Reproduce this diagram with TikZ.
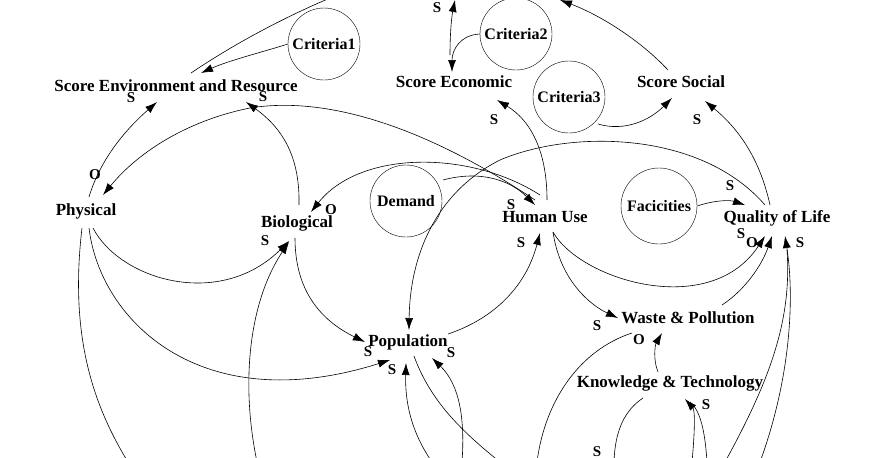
\documentclass[tikz,border=0pt]{standalone}
\usepackage{fontspec}
\setmainfont{Liberation Serif}
\usetikzlibrary{arrows.meta}
\begin{document}
\begin{tikzpicture}[x=1pt,y=-1pt,
  lbl/.style={font=\bfseries\fontsize{17}{17}\selectfont, inner sep=1pt},
  pol/.style={font=\bfseries\fontsize{15}{15}\selectfont, inner sep=0pt},
  crit/.style={draw, circle, minimum size=72pt, inner sep=0pt, font=\bfseries\fontsize{16}{16}\selectfont},
  ln/.style={line width=0.6pt},
  ar/.style={ln, -{Latex[length=12pt,width=8pt]}}]
\useasboundingbox (0,0) rectangle (871,458);
% nodes
\node[lbl] (se) at (176,86) {Score Environment and Resource};
\node[crit] (c1) at (324,44) {Criteria1};
\node[lbl] (sec) at (454,82) {Score Economic};
\node[crit] (c2) at (516,34) {Criteria2};
\node[crit] (c3) at (569,97) {Criteria3};
\node[lbl] (ss) at (681,82) {Score Social};
\node[lbl] (ph) at (86,211) {Physical};
\node[lbl] (bio) at (297,223) {Biological};
\node[crit] (dem) at (406,201) {Demand};
\node[lbl] (hu) at (545,217) {Human Use};
\node[crit,minimum size=76pt] (fac) at (659,206) {Facicities};
\node[lbl] (ql) at (777,218) {Quality of Life};
\node[lbl] (pop) at (408,342) {Population};
\node[lbl] (wp) at (688,318) {Waste \& Pollution};
\node[lbl] (kt) at (670,383) {Knowledge \& Technology};
% free ends
\coordinate (t1) at (330,-2);
\coordinate (b1) at (128,462);
\coordinate (b2) at (257,462);
\coordinate (b3) at (432,462);
\coordinate (b4) at (500,462);
\coordinate (b5) at (462,462);
\coordinate (b6) at (537,462);
\coordinate (b7) at (614,462);
\coordinate (b8) at (692,462);
\coordinate (b9) at (707,462);
\coordinate (b10) at (725,462);
\coordinate (b11) at (760,462);
% connectors
\draw[ln] (191,73) .. controls (240,40) and (290,15) .. (t1);
\draw[ar] (c1.west) .. controls (270,50) and (230,60) .. (201,73);
\draw[ar] (89,197) .. controls (100,160) and (125,130) .. (157,102);
\draw[ar] (535,200) .. controls (430,130) and (330,95) .. (250,108) .. controls (190,120) and (140,150) .. (103,195);
\draw[ar] (299,205) .. controls (300,160) and (285,130) .. (246,102);
\draw[ar] (540,195) .. controls (470,150) and (360,150) .. (311,212);
\draw[ar] (443,180) .. controls (480,170) and (510,180) .. (535,205);
\draw[ar] (93,228) .. controls (120,280) and (220,310) .. (289,241);
\draw[ar] (89,228) .. controls (100,320) and (200,420) .. (390,360);
\draw[ln] (82,228) .. controls (70,330) and (90,400) .. (b1);
\draw[ar] (b2) .. controls (240,380) and (250,300) .. (289,242);
\draw[ar] (295,238) .. controls (295,290) and (320,320) .. (365,342);
\draw[ar] (448,334) .. controls (490,320) and (525,290) .. (540,233);
\draw[ar] (b3) .. controls (410,430) and (405,400) .. (406,363);
\draw[ln] (414,356) .. controls (430,400) and (460,430) .. (b4);
\draw[ar] (b5) .. controls (465,420) and (460,385) .. (432,358);
\draw[ar] (765,205) .. controls (700,130) and (570,130) .. (500,160) .. controls (440,190) and (410,250) .. (409,330);
\draw[ar] (547,200) .. controls (547,150) and (530,120) .. (497,100);
\draw[ar] (c2.west) .. controls (460,35) and (452,50) .. (452,72);
\draw[ar] (450,55) .. controls (450,30) and (452,15) .. (455,0);
\draw[ar] (598,124) .. controls (625,132) and (650,120) .. (672,98);
\draw[ar] (668,70) .. controls (640,40) and (600,15) .. (560,0);
\draw[ar] (770,205) .. controls (760,160) and (740,130) .. (705,101);
\draw[ar] (fac.east) .. controls (715,200) and (730,200) .. (745,205);
\draw[ar] (553,232) .. controls (580,280) and (710,320) .. (765,236);
\draw[ar] (722,305) .. controls (745,290) and (762,265) .. (772,236);
\draw[ar] (b11) .. controls (790,380) and (795,300) .. (785,236);
\draw[ln] (b10) .. controls (770,380) and (792,320) .. (787,250);
\draw[ar] (553,232) .. controls (560,280) and (590,305) .. (618,318);
\draw[ar] (658,372) .. controls (653,360) and (655,345) .. (662,333);
\draw[ln] (632,333) .. controls (580,350) and (545,400) .. (b6);
\draw[ln] (643,398) .. controls (625,410) and (615,430) .. (b7);
\draw[ar] (b8) .. controls (695,430) and (695,410) .. (685,399);
\draw[ln] (b9) .. controls (705,430) and (700,410) .. (690,402);
% polarity labels
\node[pol] at (131,98) {S};
\node[pol] at (263,97) {S};
\node[pol] at (95,175) {O};
\node[pol] at (331,210) {O};
\node[pol] at (265,241) {S};
\node[pol] at (511,205) {S};
\node[pol] at (521,243) {S};
\node[pol] at (368,352) {S};
\node[pol] at (392,370) {S};
\node[pol] at (451,353) {S};
\node[pol] at (494,120) {S};
\node[pol] at (437,8) {S};
\node[pol] at (697,120) {S};
\node[pol] at (730,186) {S};
\node[pol] at (741,234) {S};
\node[pol] at (752,243) {O};
\node[pol] at (800,243) {S};
\node[pol] at (597,326) {S};
\node[pol] at (639,340) {O};
\node[pol] at (706,405) {S};
\node[pol] at (597,452) {S};
\end{tikzpicture}
\end{document}
